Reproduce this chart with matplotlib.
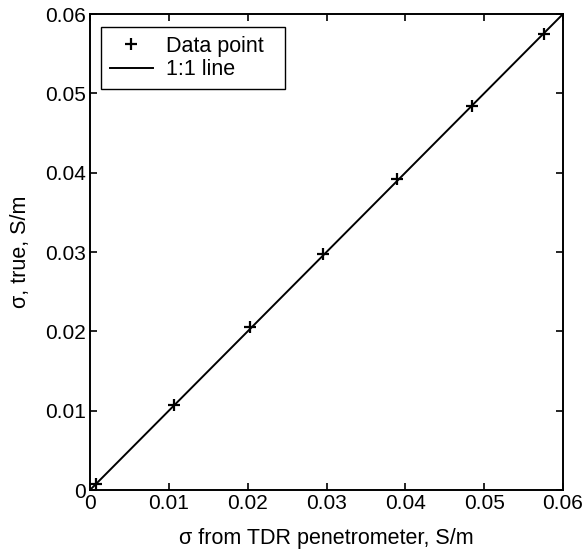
import numpy as np
import matplotlib
matplotlib.use('Agg')
import matplotlib.pyplot as plt

plt.rcParams['font.family'] = ['Liberation Sans', 'DejaVu Sans']

# values
sigma_tdr = [0.0008, 0.0107, 0.0203, 0.0296, 0.0389, 0.0484, 0.0576]
sigma_true = [0.0008, 0.0107, 0.0205, 0.0297, 0.0392, 0.0484, 0.0575]
line_ends = [0.0, 0.06]
ticks = [0, 0.01, 0.02, 0.03, 0.04, 0.05, 0.06]
tick_labels = ['0', '0.01', '0.02', '0.03', '0.04', '0.05', '0.06']

fs = 15

fig = plt.figure(figsize=(5.87, 5.55), dpi=100)
ax = fig.add_axes([90 / 587, 1 - 490 / 555, 473 / 587, 476 / 555])

ax.plot(sigma_tdr, sigma_true, '+', color='k', markersize=9, markeredgewidth=1.6,
        label='Data point')
ax.plot(line_ends, line_ends, '-', color='k', linewidth=1.4, label='1:1 line')

ax.set_xlim(0, 0.06)
ax.set_ylim(0, 0.06)
ax.set_xticks(ticks)
ax.set_xticklabels(tick_labels)
ax.set_yticks(ticks)
ax.set_yticklabels(tick_labels)
ax.tick_params(direction='in', top=True, right=True, length=5, width=1.2,
               labelsize=fs, pad=3)
for s in ax.spines.values():
    s.set_linewidth(1.4)

ax.set_xlabel('σ from TDR penetrometer, S/m', fontsize=15.5, labelpad=11)
ax.set_ylabel('σ, true, S/m', fontsize=15.5, labelpad=10)

# legend box: 101..285 px wide, top at 27 px
leg = ax.legend(loc='upper left',
                bbox_to_anchor=(11 / 473, 1 - 13 / 476, 184 / 473, 0.0),
                mode='expand', fontsize=15.5, fancybox=False, framealpha=1,
                edgecolor='k', borderaxespad=0, handlelength=2.0, borderpad=0.4,
                labelspacing=0.12, handletextpad=0.6)
leg.get_frame().set_linewidth(1.0)

fig.savefig('out.png', dpi=100)
